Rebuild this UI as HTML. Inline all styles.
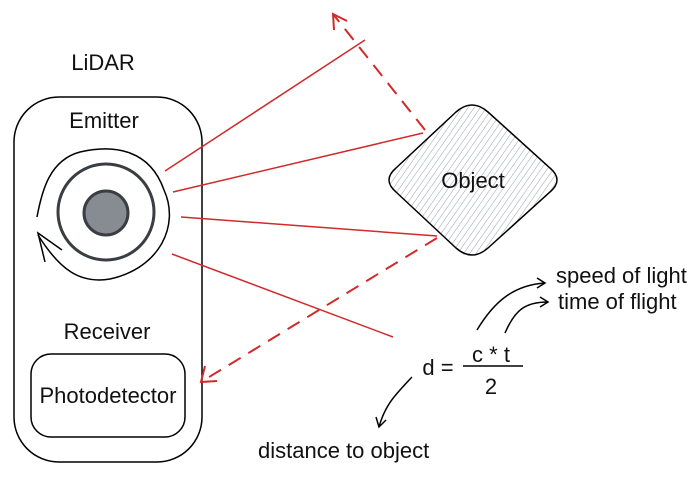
<!DOCTYPE html>
<html><head><style>body{margin:0;background:#fff}svg{display:block}text{font-family:"Liberation Sans",sans-serif;fill:#111}</style></head><body>
<svg width="700" height="477" viewBox="0 0 700 477">
<defs>
<pattern id="h" patternUnits="userSpaceOnUse" width="5" height="5" patternTransform="rotate(35)"><line x1="0" y1="0" x2="0" y2="5" stroke="#9aa0a8" stroke-width="1"/></pattern>
<clipPath id="dc"><path d="M396,168 L456,112 Q472,98 488,112 L550,168 Q564,180 550,192 L488,248 Q472,262 456,248 L396,192 Q382,180 396,168Z"/></clipPath>
</defs>
<text x="103" y="70" font-size="22" text-anchor="middle">LiDAR</text>
<rect x="14" y="97" width="188" height="365" rx="45" fill="none" stroke="#000" stroke-width="1.5"/>
<text x="104" y="128" font-size="22" text-anchor="middle">Emitter</text>
<circle cx="106" cy="212" r="48" fill="none" stroke="#3a3d42" stroke-width="3"/>
<circle cx="106" cy="213" r="22" fill="#878c93" stroke="#3a3d42" stroke-width="3"/>
<path d="M37,217 C42,190 50,160 80,152 C115,144 150,150 164,190 C180,225 160,268 110,279 C80,284 60,270 38,235" fill="none" stroke="#000" stroke-width="1.5"/>
<path d="M62,250 L38,233 L45,262" fill="none" stroke="#000" stroke-width="1.5"/>
<text x="107" y="339" font-size="22" text-anchor="middle">Receiver</text>
<rect x="31" y="354" width="154" height="83" rx="20" fill="none" stroke="#000" stroke-width="1.5"/>
<text x="108" y="403" font-size="22" text-anchor="middle">Photodetector</text>
<g stroke="#d02a2a" stroke-width="1.5" fill="none">
<line x1="165" y1="171" x2="365" y2="40"/>
<line x1="173" y1="192" x2="423" y2="133"/>
<line x1="181" y1="217" x2="437" y2="236"/>
<line x1="172" y1="254" x2="393" y2="337"/>
<line x1="425" y1="130" x2="333" y2="14" stroke-dasharray="14,9" stroke-width="2"/>
<path d="M334,30 L333,14 L347,21" stroke-width="2"/>
<line x1="437" y1="238" x2="201" y2="382" stroke-dasharray="14,9" stroke-width="2"/>
<path d="M205,366 L201,382 L217,381" stroke-width="2"/>
</g>
<rect x="375" y="95" width="195" height="170" fill="url(#h)" clip-path="url(#dc)"/>
<path d="M396,168 L456,112 Q472,98 488,112 L550,168 Q564,180 550,192 L488,248 Q472,262 456,248 L396,192 Q382,180 396,168Z" fill="none" stroke="#000" stroke-width="1.5"/>
<text x="473" y="188" font-size="22" text-anchor="middle">Object</text>
<text x="438" y="375" font-size="22" text-anchor="middle">d =</text>
<text x="491" y="362" font-size="22" text-anchor="middle">c * t</text>
<line x1="463" y1="366" x2="523" y2="366" stroke="#000" stroke-width="1.5"/>
<text x="491" y="394" font-size="22" text-anchor="middle">2</text>
<text x="556" y="283" font-size="22">speed of light</text>
<text x="558" y="309" font-size="22">time of flight</text>
<g stroke="#000" stroke-width="1.5" fill="none">
<path d="M477,330 C495,300 515,285 545,283"/><path d="M537,278 L545,283 L537,288"/>
<path d="M505,333 C515,310 525,302 548,302"/><path d="M540,297 L548,302 L540,307"/>
<path d="M412,377 C395,395 385,405 379,427"/><path d="M376,417 L379,427 L386,420"/>
</g>
<text x="258" y="458" font-size="22">distance to object</text>
</svg>
</body></html>
